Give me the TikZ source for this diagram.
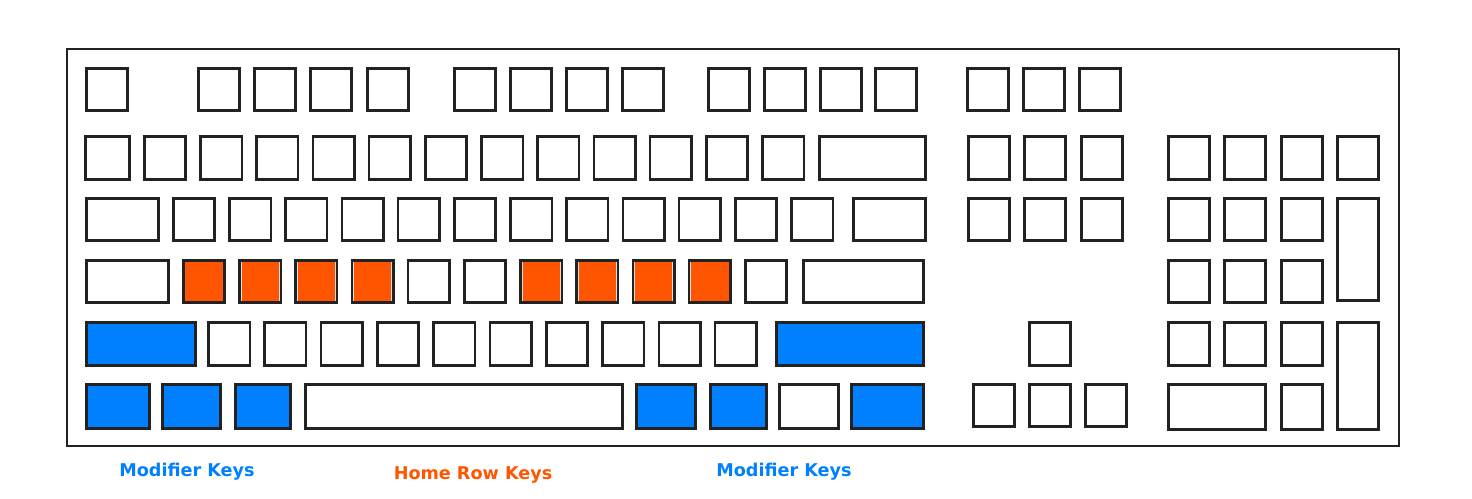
\documentclass[tikz,border=0pt]{standalone}
\usepackage{fontspec}
\newfontfamily\labelfont{DejaVu Sans}
\usetikzlibrary{positioning}
\definecolor{homecolor}{RGB}{255, 85, 0}
\definecolor{modcolor}{RGB}{0, 128, 255}
\definecolor{keyline}{RGB}{34, 34, 34}
\tikzset{
    keyw/.style={minimum width=#1*0.5pt-1.3pt},
    keyh/.style={minimum height=#1*0.5pt-1.3pt}
}

\begin{document}
\begin{tikzpicture}[
        x=0.5pt, y=-0.5pt,
        key/.style={rectangle, draw=keyline, line width=1.3pt, fill=white, inner sep=0pt, anchor=north west, keyw=44, keyh=45},
        lit/.style={key, path picture={\draw[white!75!gray, line width=0.4pt]
            ([shift={(0.75pt,-0.75pt)}]path picture bounding box.north west) rectangle
            ([shift={(-0.75pt,0.75pt)}]path picture bounding box.south east);}},
        homekey/.style={lit, fill=homecolor},
        modkey/.style={lit, fill=modcolor},
        caption/.style={font=\labelfont\bfseries\fontsize{8.8}{10}\selectfont}
    ]
        \useasboundingbox (0,0) rectangle (1472,498);

        % Keyboard frame
        \node[draw=keyline, line width=1pt, inner sep=0pt, anchor=north west, minimum width=666pt, minimum height=198.5pt] (board) at (66,48) {};

        % Function row
        \node[key] (esc) at (85,67) {};
        \foreach \x [count=\i] in {197,253,309,366,453,509,565,621,707,763,819,874}
            \node[key] (f\i) at (\x,67) {};
        \foreach \x [count=\i] in {966,1022,1078}
            \node[key] (sys\i) at (\x,67) {};

        % Number row
        \node[key, keyw=47, keyh=46] (grave) at (84,135) {};
        \foreach \i in {1,...,12}
            \node[key, keyh=46] (num\i) at (86.8+56.2*\i,135) {};
        \node[key, keyw=109, keyh=46] (bksp) at (818,135) {};

        % Top letter row
        \node[key, keyw=75] (tab) at (85,197) {};
        \foreach \i in {1,...,12}
            \node[key] (q\i) at (115.8+56.2*\i,197) {};
        \node[key, keyw=75] (bslash) at (852,197) {};

        % Home row
        \node[key, keyw=85] (caps) at (85,259) {};
        \foreach \i/\kind in {1/homekey, 2/homekey, 3/homekey, 4/homekey, 5/key, 6/key,
                7/homekey, 8/homekey, 9/homekey, 10/homekey, 11/key}
            \node[\kind] (a\i) at (125.8+56.2*\i,259) {};
        \node[key, keyw=123] (enter) at (802,259) {};

        % Shift row
        \node[modkey, keyw=112, keyh=46] (lshift) at (85,321) {};
        \foreach \i in {1,...,10}
            \node[key, keyh=46] (z\i) at (150.8+56.3*\i,321) {};
        \node[modkey, keyw=150, keyh=46] (rshift) at (775,321) {};

        % Bottom row
        \foreach \x/\kw/\kind [count=\i] in {85/66/modkey, 161/61/modkey, 234/58/modkey, 304/320/key,
                635/62/modkey, 709/59/modkey, 778/62/key, 850/75/modkey}
            \node[\kind, keyw=\kw, keyh=47] (b\i) at (\x,383) {};

        % Navigation block
        \foreach \x [count=\i] in {967,1023,1080} {
            \node[key, keyh=46] (ins\i) at (\x,135) {};
            \node[key] (del\i) at (\x,197) {};
        }
        \node[key, keyh=46] (up) at (1028,321) {};
        \foreach \x [count=\i] in {972,1028,1084}
            \node[key] (arr\i) at (\x,383) {};

        % Number pad
        \foreach \x [count=\i] in {1167,1223,1280,1336}
            \node[key, keyh=46] (np\i) at (\x,135) {};
        \foreach \x [count=\i] in {1167,1223,1280} {
            \node[key] (npa\i) at (\x,197) {};
            \node[key] (npb\i) at (\x,259) {};
            \node[key, keyh=46] (npc\i) at (\x,321) {};
        }
        \node[key, keyh=105] (npplus) at (1336,197) {};
        \node[key, keyh=110] (npenter) at (1336,321) {};
        \node[key, keyw=100, keyh=48] (npzero) at (1167,383) {};
        \node[key, keyh=48] (npdot) at (1280,383) {};

        % Captions
        \node[caption, text=modcolor] (modleft) at (187,472) {Modifier Keys};
        \node[caption, text=homecolor] (homelabel) at (473,475) {Home Row Keys};
        \node[caption, text=modcolor] (modright) at (784,472) {Modifier Keys};

    \end{tikzpicture}
\end{document}
